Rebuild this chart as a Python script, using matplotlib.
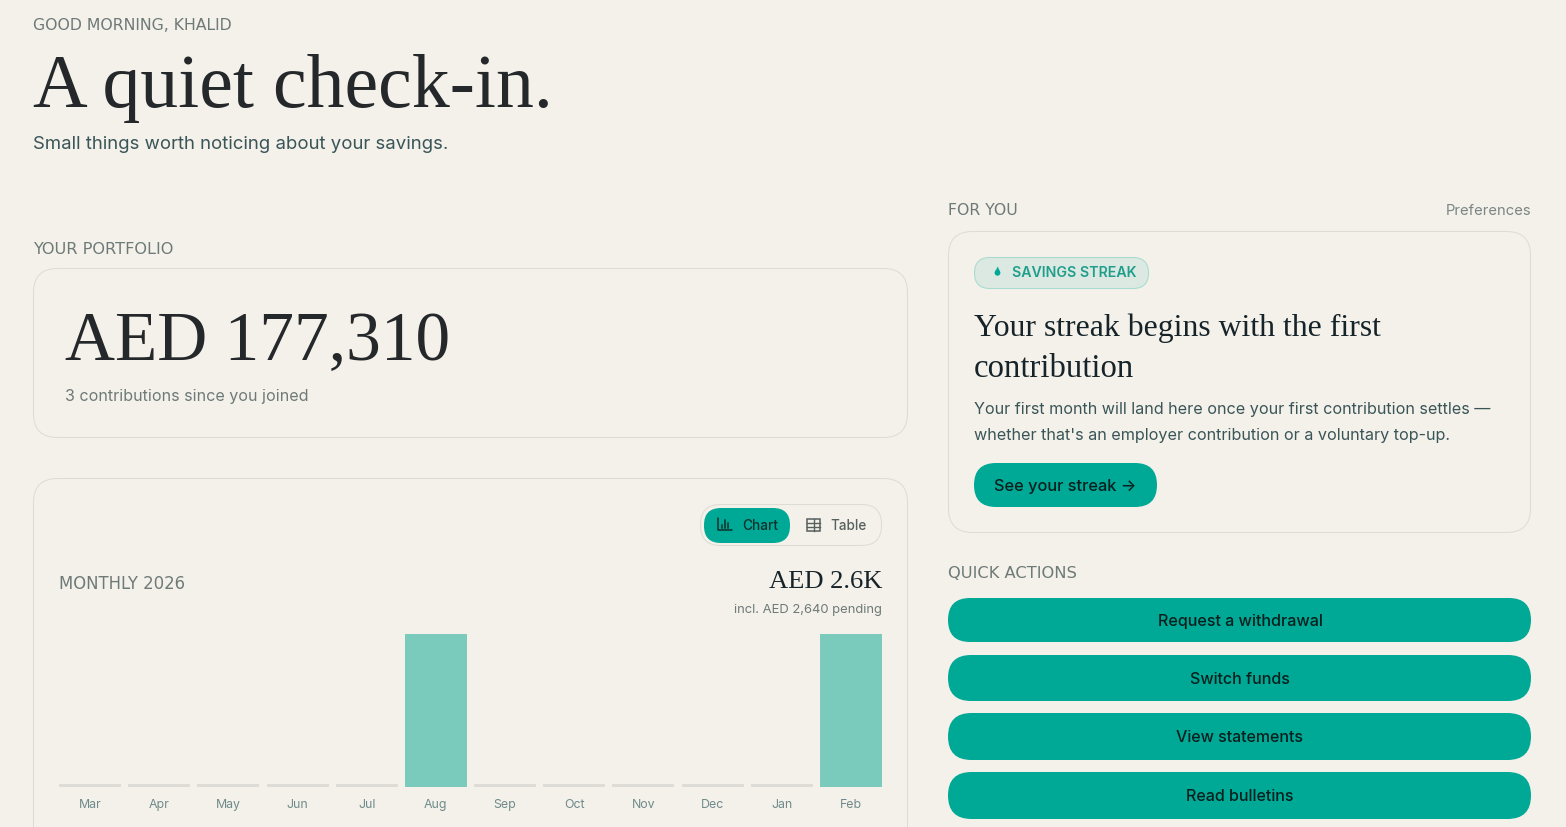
import numpy as np
import matplotlib
matplotlib.use("Agg")
import matplotlib.pyplot as plt
from matplotlib.patches import FancyBboxPatch, Rectangle, Polygon, Circle

months = ["Mar", "Apr", "May", "Jun", "Jul", "Aug", "Sep", "Oct", "Nov", "Dec", "Jan", "Feb"]
monthly_values = [0, 0, 0, 0, 0, 2640, 0, 0, 0, 0, 0, 2640]
action_labels = ["Request a withdrawal", "Switch funds", "View statements", "Read bulletins"]

BG = "#F4F1EA"; TEAL = "#00A896"; LIGHT = "#7BCBBD"; STUB = "#DEDCD6"; BORDER = "#DFDCD5"
INK = "#25282B"; GREY = "#6E7A78"; BODY = "#3A5558"; TICK = "#6F8A8C"
SANS = "Inter"; SERIF = "Liberation Serif"; CAPS = "DejaVu Sans"

W, H = 1566, 827
fig = plt.figure(figsize=(W / 100, H / 100), dpi=100, facecolor=BG)
ui = fig.add_axes([0, 0, 1, 1], zorder=0)
ui.set_xlim(0, W); ui.set_ylim(H, 0); ui.axis("off")
renderer = fig.canvas.get_renderer()


def label(s, x0, x1, base, color=GREY, family=SANS, weight="normal", ha="left"):
    """Text fitted so that it spans x0..x1 with its baseline at `base`."""
    x = {"left": x0, "right": x1, "center": (x0 + x1) / 2}[ha]
    t = ui.text(x, base, s, color=color, family=family, fontweight=weight,
                ha=ha, va="baseline", fontsize=10)
    width = t.get_window_extent(renderer).width
    t.set_fontsize(10 * (x1 - x0) / width)
    return t


def box(x0, y0, x1, y1, r, fc="none", ec="none", lw=0.75):
    p = FancyBboxPatch((x0, y0), x1 - x0, y1 - y0,
                       boxstyle=f"round,pad=0,rounding_size={r}",
                       fc=fc, ec=ec, lw=lw, mutation_aspect=1)
    ui.add_patch(p)
    return p


# Header
label("GOOD MORNING, KHALID", 33, 232, 29.5, family=CAPS)
label("A quiet check-in.", 33, 553, 107, color=INK, family=SERIF, weight="bold" if False else "normal")
label("Small things worth noticing about your savings.", 33, 451, 149, color=BODY)

# Portfolio
label("YOUR PORTFOLIO", 33, 173, 254, family=CAPS)
box(33.5, 268.5, 907.5, 437.5, 24, ec=BORDER)
label("AED 177,310", 65, 449, 360, color=INK, family=SERIF)
label("3 contributions since you joined", 65, 309, 401, color=GREY)

# Chart card
box(33.5, 478.5, 907.5, 900, 24, ec=BORDER)
box(700.5, 504.5, 881.5, 545.5, 20, ec=BORDER)
box(704, 508, 790, 543, 17, fc=TEAL)
for xs, ys in [([718, 718, 732], [518, 530, 530])]:
    ui.plot(xs, ys, color="#10302C", lw=1.1, solid_capstyle="round")
for x, top in [(721.5, 525), (724.5, 520), (728, 523)]:
    ui.plot([x, x], [top, 528], color="#10302C", lw=1.1)
label("Chart", 742, 778, 530, color="#10302C", weight="medium")
ui.add_patch(Rectangle((807, 519), 13, 12, fc="none", ec="#55605F", lw=1.1))
ui.plot([807, 820], [523, 523], color="#55605F", lw=1)
ui.plot([807, 820], [527, 527], color="#55605F", lw=1)
ui.plot([813.5, 813.5], [519, 531], color="#55605F", lw=1)
label("Table", 830, 866, 530, color="#55605F", weight="medium")
label("MONTHLY 2026", 59, 185, 589, family=CAPS)
label("AED 2.6K", 769, 882, 588, color="#16242A", family=SERIF, ha="right")
label("incl. AED 2,640 pending", 732, 882, 613, color=GREY, ha="right")

# Bars
bar_ax = fig.add_axes([59 / W, (H - 787) / H, 823 / W, 153 / H], zorder=1)
bar_ax.patch.set_alpha(0)
positions = np.arange(len(months))
half = 31 / 69.18
bar_ax.set_xlim(-half, len(months) - 1 + half)
bar_ax.set_ylim(0, max(monthly_values))
stub = max(monthly_values) * 3 / 153
values = np.array(monthly_values, dtype=float)
bar_ax.bar(positions, np.where(values > 0, values, stub), width=2 * half,
           color=[LIGHT if v > 0 else STUB for v in values], linewidth=0)
bar_ax.set_xticks(positions, months, family=SANS, fontsize=8.9, color=TICK, va="baseline")
bar_ax.tick_params(axis="x", length=0, pad=15)
bar_ax.set_yticks([])
for s in bar_ax.spines.values():
    s.set_visible(False)

# For you
label("FOR YOU", 948, 1018, 215, family=CAPS)
label("Preferences", 1445, 1531, 215, color="#7B8684", ha="right")
box(948.5, 231.5, 1530.5, 532.5, 24, ec=BORDER)
box(974.5, 257.5, 1148.5, 288.5, 15.5, fc="#DCE9E2", ec="#A6DCCF")
ui.add_patch(Circle((997.5, 272.8), 2.9, fc=TEAL, ec="none"))
ui.add_patch(Polygon([(995.2, 271.5), (997.8, 266.5), (999.8, 271.5)], fc=TEAL, ec="none"))
label("SAVINGS STREAK", 1012, 1136, 277, color="#1F9E8C", weight="semibold")
label("Your streak begins with the first", 974, 1381, 336, color="#16242A", family=SERIF)
label("contribution", 974, 1134, 377, color="#16242A", family=SERIF)
label("Your first month will land here once your first contribution settles \u2014", 974, 1492, 414, color=BODY)
label("whether that's an employer contribution or a voluntary top-up.", 974, 1452, 440, color=BODY)
box(974, 463, 1157, 507, 22, fc=TEAL)
label("See your streak \u2192", 994, 1137, 491, color="#08201D", weight="medium")

# Quick actions
label("QUICK ACTIONS", 948, 1076, 578, family=CAPS)
button_rows = [(598, 642, 626, 1157, 1323), (655, 701, 684, 1190, 1290),
               (713, 760, 742, 1176, 1304), (772, 819, 801, 1186, 1294)]
for text, (y0, y1, base, x0, x1) in zip(action_labels, button_rows):
    box(948, y0, 1531, y1, (y1 - y0) / 2, fc=TEAL)
    label(text, x0, x1, base, color="#08201D", weight="medium", ha="center")

fig.savefig("out.png", dpi=100, facecolor=BG)
